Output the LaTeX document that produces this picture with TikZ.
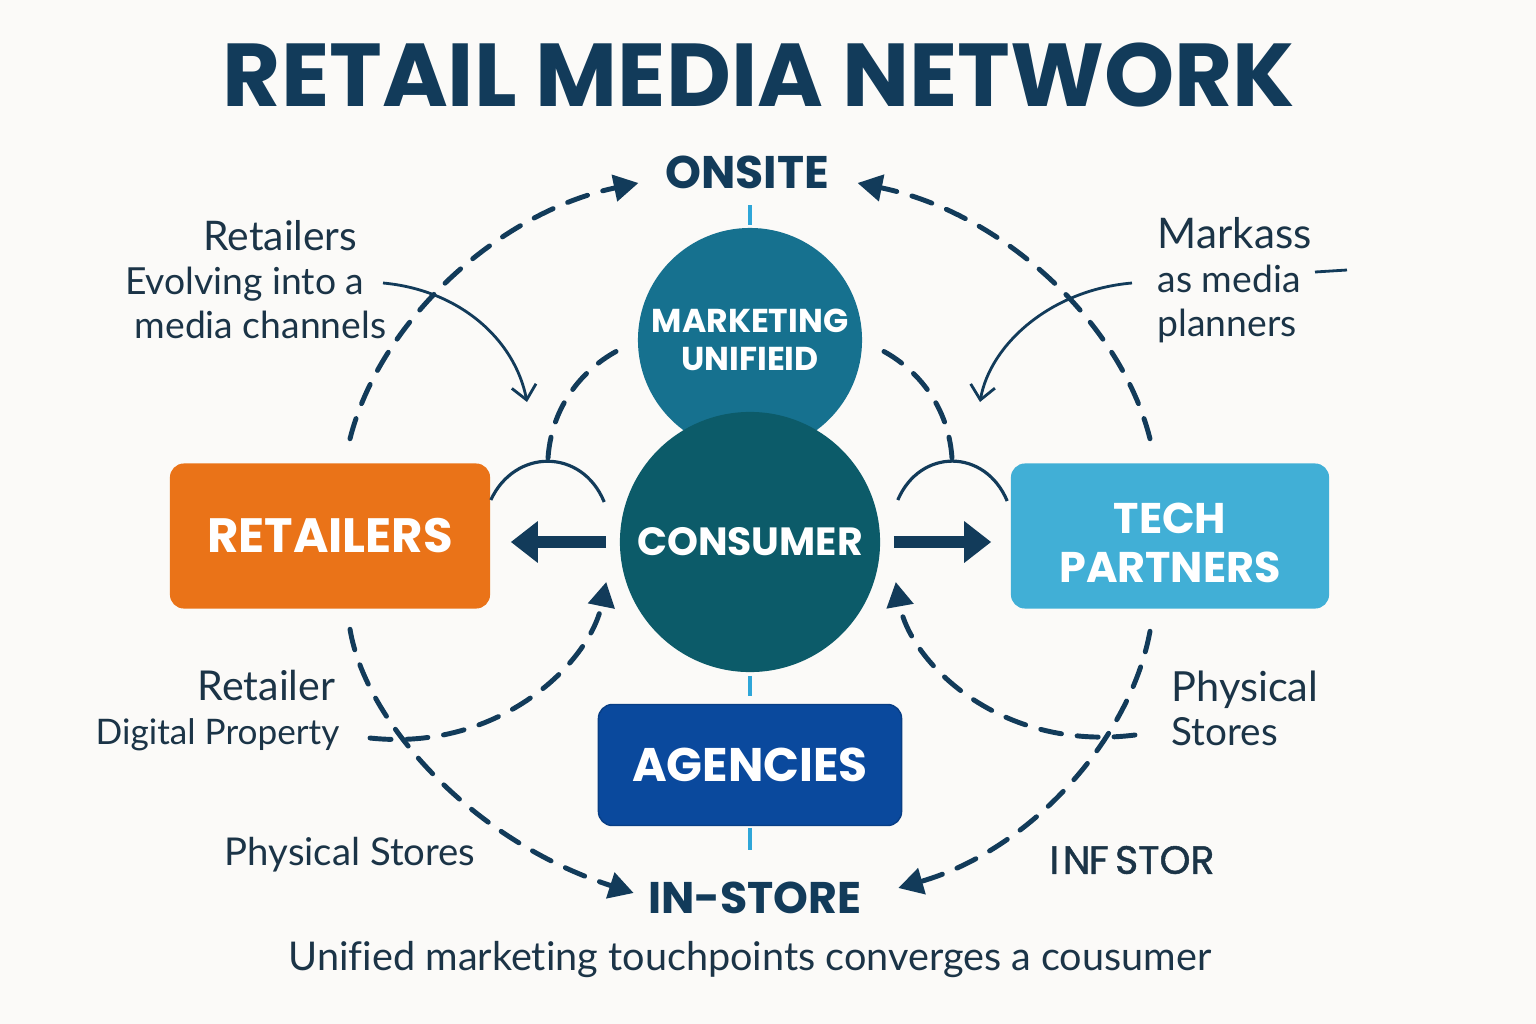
\documentclass[tikz,border=0pt]{standalone}
\usepackage{fontspec}
\setmainfont{Poppins}
\newfontfamily\notefont[Ligatures=NoCommon]{Lato}
\newfontfamily\markfont[FakeBold=1.2]{Poppins}
\usetikzlibrary{arrows.meta,calc}

\definecolor{bgpaper}{HTML}{FBFAF8}
\definecolor{navy}{HTML}{123B5A}
\definecolor{inkdark}{HTML}{1B3447}
\definecolor{mktblue}{HTML}{16718F}
\definecolor{consteal}{HTML}{0C5B69}
\definecolor{retorange}{HTML}{EA7318}
\definecolor{techblue}{HTML}{41AFD6}
\definecolor{agencyblue}{HTML}{0A499D}
\definecolor{tickblue}{HTML}{2FA6D8}

\newcommand\fs[2]{\fontsize{#1}{#2}\selectfont}

\tikzset{
    hub/.style={circle, inner sep=0pt, text=white, font=\bfseries, align=center},
    block/.style={rectangle, rounded corners=4pt, inner sep=0pt, text=white,
        font=\bfseries, align=center, minimum height=1.45cm},
    tag/.style={text=navy, inner sep=0pt},
    note/.style={text=inkdark, font=\notefont\fs{10.6}{12.5}, inner sep=0pt},
    flow/.style={navy, line width=1.4pt, dash pattern=on 6pt off 4.5pt, line cap=round,
        -{Triangle[length=7pt,width=7.5pt]}},
    loopline/.style={navy, line width=1.4pt, dash pattern=on 6pt off 4.5pt, line cap=round},
    arch/.style={navy, line width=0.9pt},
    pointer/.style={navy, line width=0.8pt, -{Straight Barb[length=4pt,width=7pt]}},
    push/.style={navy, line width=3.4pt, -{Triangle[length=7.7pt,width=11.4pt]}},
    tick/.style={tickblue, line width=0.9pt}
}

\begin{document}
\begin{tikzpicture}[x=0.01cm, y=-0.01cm]
\fill[bgpaper] (0,0) rectangle (1536,1024);
\useasboundingbox (0,0) rectangle (1536,1024);

% title and ring labels
\node[text=navy, font=\bfseries\fs{25.4}{30}] (title) at (759,75) {RETAIL MEDIA NETWORK};
\node[tag, font=\bfseries\fs{13}{15}] (onsite) at (747,172) {ONSITE};
\node[tag, font=\bfseries\fs{12.6}{15}] (instore) at (755,898) {IN-STORE};

% hubs in the middle
\node[hub, fill=mktblue, minimum size=2.24cm, font=\bfseries\fs{9.4}{10.8}] (mkt) at (750,340)
    {MARKETING\\UNIFIEID};
\node[hub, fill=consteal, minimum size=2.6cm, font=\bfseries\fs{11.2}{13}] (cons) at (750,542)
    {CONSUMER};

% players
\node[block, fill=retorange, minimum width=3.2cm, font=\bfseries\fs{13.7}{16}] (retail) at (330,536)
    {RETAILERS};
\node[block, fill=techblue, minimum width=3.18cm] (tech) at (1170,536) {};
\node[text=white, font=\bfseries\fs{12.2}{13.7}, align=center, inner sep=0pt] (techtext)
    at ($(tech.center)+(0,7)$) {TECH\\PARTNERS};
\node[block, fill=agencyblue, draw=agencyblue!85!black, minimum width=3.03cm, minimum height=1.21cm,
    font=\bfseries\fs{13.4}{16}] (agency) at (750,765) {AGENCIES};

% side notes
\node[note, align=right, anchor=east] (evolve) at (387,280)
    {{\fs{11.6}{12.5}Retailers}\kern0.29cm\\Evolving into a\kern0.22cm\\media channels};
\node[note, align=left, anchor=west] (planners) at (1157,280)
    {{\fs{12}{12.5}Markass}\\as media\\planners};
\node[note, align=right, anchor=east] (digital) at (340,711)
    {{\fs{11.7}{12.5}Retailer}\kern0.04cm\\{\fs{10}{12.5}Digital Property}};
\node[note, align=left, anchor=west] (physright) at (1171,708)
    {{\fs{11.8}{12.5}Physical}\\{\fs{11}{12.5}Stores}};
\node[note, font=\notefont\fs{10.9}{12.5}] (physleft) at (350,855) {Physical Stores};
\node[text=inkdark, font=\markfont\fs{11.2}{14}, inner sep=0pt] (instor) at (1132,860)
    {I\kern1pt N\kern-0.5pt F\,STOR};
\node[text=inkdark, font=\notefont\fs{11.26}{14}, inner sep=0pt] (caption) at (750,960)
    {Unified marketing touchpoints converges a cousumer};

% short ticks on the axis
\draw[tick] ($(mkt.north)+(0,-22)$) -- ($(mkt.north)+(0,-2)$);
\draw[tick] ($(cons.south)+(0,3)$) -- ($(agency.north)+(0,-8)$);
\draw[tick] ($(agency.south)+(0,2)$) -- ($(agency.south)+(0,24)$);

% push arrows out of the consumer
\draw[push] ($(cons.west)+(-13,0)$) -- ($(retail.east |- cons.west)+(20,0)$);
\draw[push] ($(cons.east)+(13,0)$) -- ($(tech.west |- cons.east)+(-19,0)$);

% arches over the push arrows
\draw[arch] ($(retail.east)+(0,-36)$) .. controls (515,448) and (582,448) .. ($(cons.west)+(-15,-40)$);
\draw[arch] ($(cons.east)+(17,-42)$) .. controls (920,448) and (985,448) .. ($(tech.west)+(-3,-35)$);

% dashed links from the arches to the marketing hub
\draw[loopline] (548,458) .. controls (552,400) and (590,362) .. ($(mkt.west)+(-10,6)$);
\draw[loopline] (952,458) .. controls (948,400) and (910,362) .. ($(mkt.east)+(10,6)$);

% outer ring
\draw[flow] ($(retail.north)+(20,-24)$) .. controls (380,320) and (500,212) .. ($(onsite.west)+(-26,11)$);
\draw[flow] ($(tech.north)+(-20,-24)$) .. controls (1120,320) and (1000,212) .. ($(onsite.east)+(28,11)$);
\draw[flow] ($(retail.south)+(20,20)$) .. controls (365,720) and (470,840) .. ($(instore.west)+(-14,-5)$);
\draw[flow] ($(tech.south)+(-20,22)$) .. controls (1130,740) and (1030,850) .. ($(instore.east)+(36,-10)$);

% inner loops back into the consumer
\draw[flow] ($(digital.east)+(30,27)$) .. controls (500,752) and (590,662) .. ($(cons.west)+(-13,40)$);
\draw[flow] ($(physright.west)+(-36,27)$) .. controls (1000,752) and (910,662) .. ($(cons.east)+(15,40)$);

% pointers from the notes
\draw[pointer] ($(evolve.east)+(-4,3)$) .. controls (460,290) and (515,340) .. (527,402);
\draw[pointer] ($(planners.west)+(-25,3)$) .. controls (1050,290) and (990,345) .. (980,402);
\draw[navy, line width=0.8pt] (1315,272) -- (1347,270);
\end{tikzpicture}
\end{document}
